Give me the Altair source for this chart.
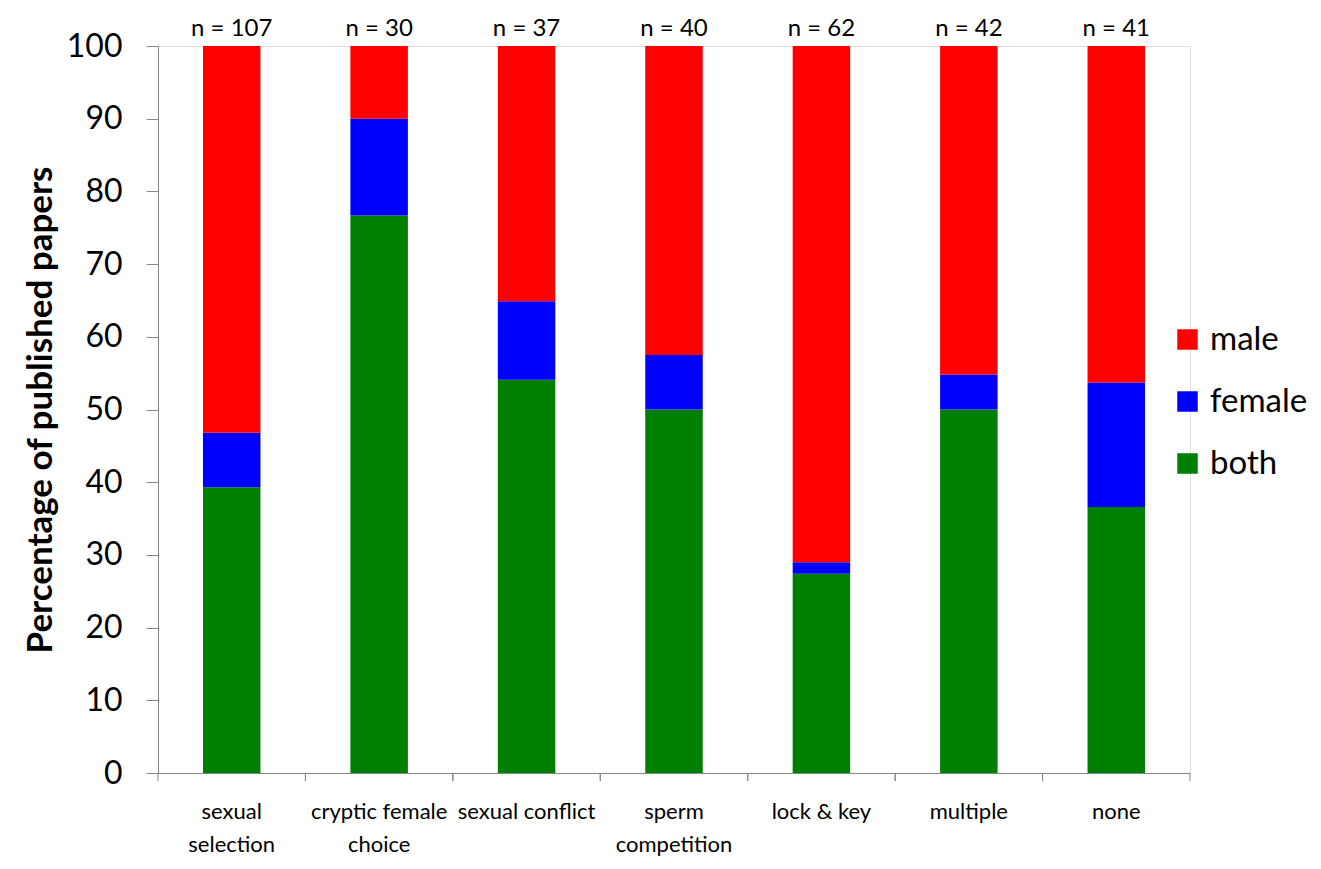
import altair as alt
import pandas as pd

categories = ["sexual selection", "cryptic female choice", "sexual conflict",
              "sperm competition", "lock & key", "multiple", "none"]
label_lines = {
    "sexual selection": ["sexual", "selection"],
    "cryptic female choice": ["cryptic female", "choice"],
    "sperm competition": ["sperm", "competition"],
}
n_values = [107, 30, 37, 40, 62, 42, 41]
both = [39.3, 76.7, 54.1, 50.0, 27.4, 50.0, 36.6]
female = [7.5, 13.3, 10.8, 7.5, 1.6, 4.8, 17.1]
male = [53.2, 10.0, 35.1, 42.5, 71.0, 45.2, 46.3]
sexes = ["male", "female", "both"]
colors = ["#FF0000", "#0000FF", "#007F00"]

rows = []
for i, c in enumerate(categories):
    rows.append({"category": c, "sex": "both", "value": both[i], "ord": 0})
    rows.append({"category": c, "sex": "female", "value": female[i], "ord": 1})
    rows.append({"category": c, "sex": "male", "value": male[i], "ord": 2})
df = pd.DataFrame(rows)
ndf = pd.DataFrame({"category": categories, "n": [f"n = {v}" for v in n_values]})

expr = "datum.label"
for k, v in label_lines.items():
    arr = "[" + ",".join(f"'{s}'" for s in v) + "]"
    expr = f"datum.label == '{k}' ? {arr} : ({expr})"

FONT = "Lato"
W, H = 1032, 727
xscale = alt.Scale(domain=categories, paddingInner=0, paddingOuter=0)

bars = alt.Chart(df).mark_bar(width=alt.RelativeBandSize(0.39)).encode(
    x=alt.X("category:N", scale=xscale, sort=categories, title=None,
            axis=alt.Axis(labelAngle=0, labelExpr=expr, labelFont=FONT, labelFontSize=22,
                          labelColor="black", labelLineHeight=33, labelPadding=28,
                          ticks=False, tickSize=0, domainColor="#868686", grid=False,
                          labelBaseline="top")),
    y=alt.Y("value:Q", stack="zero", scale=alt.Scale(domain=[0, 100], nice=False),
            title="Percentage of published papers",
            axis=alt.Axis(values=list(range(0, 101, 10)), grid=False, tickSize=12,
                          tickColor="#868686", domainColor="#868686", labelPadding=24,
                          labelFont=FONT, labelFontSize=32, labelColor="black",
                          titleFont=FONT, titleFontSize=35, titleFontWeight="bold",
                          titleColor="black", titleX=-118, titleY=H / 2,
                          titleAngle=-90, titleAlign="center", titleBaseline="middle")),
    color=alt.Color("sex:N", scale=alt.Scale(domain=sexes, range=colors),
                    legend=alt.Legend(title=None, orient="none", legendX=1013, legendY=277,
                                      symbolType="square", symbolSize=420,
                                      symbolStrokeWidth=0, labelFont=FONT,
                                      labelFontSize=33, labelColor="black",
                                      labelOffset=6, rowPadding=28, padding=0)),
    order=alt.Order("ord:Q", sort="ascending"),
)

ticks_left = alt.Chart(ndf).mark_rule(color="#868686").encode(
    x=alt.X("category:N", scale=xscale, sort=categories, bandPosition=0),
    y=alt.value(H), y2=alt.value(H + 8),
)
ticks_right = alt.Chart(ndf).mark_rule(color="#868686").encode(
    x=alt.X("category:N", scale=xscale, sort=categories, bandPosition=1),
    y=alt.value(H), y2=alt.value(H + 8),
)

ntext = alt.Chart(ndf).mark_text(font=FONT, fontSize=24, color="black", dy=-17).encode(
    x=alt.X("category:N", scale=xscale, sort=categories),
    y=alt.datum(100),
    text="n:N",
)

chart = alt.layer(bars, ticks_left, ticks_right, ntext).properties(
    width=W, height=H,
    autosize=alt.AutoSizeParams(type="none"),
    padding={"left": 150, "top": 38, "right": 120, "bottom": 88},
).configure_view(
    stroke="transparent", strokeWidth=0, strokeOpacity=0
).configure_axis(grid=False).configure(background="white")

chart.save("out.html", embed_options={"renderer": "svg", "actions": False})
